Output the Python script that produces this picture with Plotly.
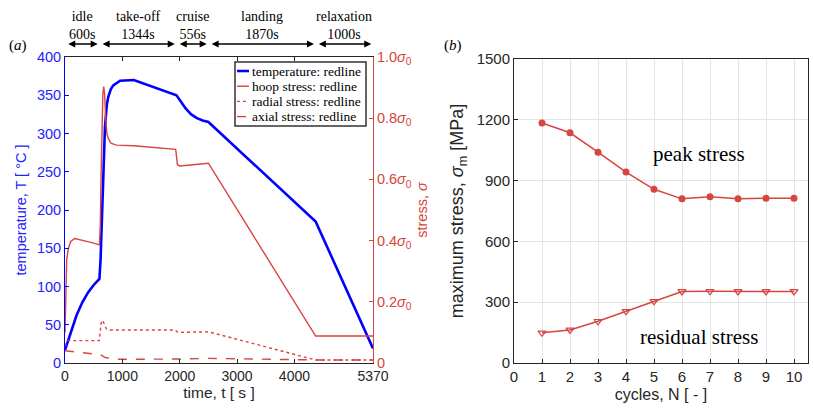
import plotly.graph_objects as go

# ---------------- data : panel (a) ----------------
phase_names = ["idle", "take-off", "cruise", "landing", "relaxation"]
phase_durations = [600, 1344, 556, 1870, 1000]

time_temp = [0, 50, 100, 200, 300, 400, 500, 600, 620, 656, 697, 730, 755, 800, 842, 960,
             1200, 1944, 2000, 2100, 2200, 2300, 2400, 2500, 4370, 5370]
temperature = [17, 28, 40, 62, 79, 92, 102, 110, 135, 222, 309, 338, 348, 358, 363, 369,
               370, 350, 344, 333, 325, 320, 317, 315, 185, 19]

time_hoop = [0, 15, 30, 60, 100, 170, 300, 450, 600, 615, 630, 645, 660, 675, 690, 710,
             730, 755, 800, 900, 1200, 1930, 1944, 1960, 2000, 2500, 4370, 5370]
hoop_stress = [0.10, 0.25, 0.34, 0.375, 0.397, 0.407, 0.402, 0.394, 0.386, 0.45, 0.62, 0.78,
               0.88, 0.903, 0.88, 0.80, 0.75, 0.734, 0.718, 0.712, 0.71, 0.698, 0.672, 0.648,
               0.644, 0.653, 0.088, 0.088]

time_radial = [0, 40, 598, 610, 630, 656, 680, 720, 785, 1918, 1960, 2005, 2500, 4330, 4370, 5370]
radial_stress = [0.055, 0.073, 0.073, 0.10, 0.13, 0.14, 0.13, 0.112, 0.108, 0.108, 0.101,
                 0.100, 0.102, 0.012, 0.010, 0.010]

time_axial = [0, 600, 620, 700, 900, 1944, 2500, 4370, 5370]
axial_stress = [0.040, 0.027, 0.027, 0.018, 0.012, 0.013, 0.015, 0.010, 0.010]

time_ticks = [0, 1000, 2000, 3000, 4000, 5370]
temp_ticks = [0, 50, 100, 150, 200, 250, 300, 350, 400]
stress_ticks = [0, 0.2, 0.4, 0.6, 0.8, 1.0]
stress_tick_labels = ["0", "0.2<i>σ</i><sub>0</sub>", "0.4<i>σ</i><sub>0</sub>",
                      "0.6<i>σ</i><sub>0</sub>", "0.8<i>σ</i><sub>0</sub>", "1.0<i>σ</i><sub>0</sub>"]

# ---------------- data : panel (b) ----------------
cycles = [1, 2, 3, 4, 5, 6, 7, 8, 9, 10]
peak_stress = [1184, 1136, 1040, 942, 857, 810, 820, 811, 813, 813]
residual_stress = [149, 163, 206, 255, 304, 353, 354, 353, 353, 353]
cycle_ticks = [0, 1, 2, 3, 4, 5, 6, 7, 8, 9, 10]
mpa_ticks = [0, 300, 600, 900, 1200, 1500]

# ---------------- styling ----------------
W, H = 813, 411
BLUE = "#0000ff"
BLUE_TXT = "#2222ff"
RED = "#d64541"
DARK = "#262626"
SANS = "Liberation Sans"
SERIF = "Liberation Serif"


def px(x):
    return x / W


def py(y):
    return 1 - y / H


fig = go.Figure()

series_a = [
    ("temperature: redline", time_temp, temperature, "y", BLUE, "solid", 2.6),
    ("hoop stress: redline", time_hoop, hoop_stress, "y2", RED, "solid", 1.4),
    ("radial stress: redline", time_radial, radial_stress, "y2", RED, "dot", 1.4),
    ("axial stress: redline", time_axial, axial_stress, "y2", RED, "dash", 1.4),
]
for name, xs, ys, yax, col, dash, w in series_a:
    fig.add_trace(go.Scatter(x=xs, y=ys, name=name, mode="lines", xaxis="x", yaxis=yax,
                             line=dict(color=col, dash=dash, width=w), showlegend=False))

fig.add_trace(go.Scatter(x=cycles, y=peak_stress, mode="lines+markers", xaxis="x3", yaxis="y3",
                         line=dict(color=RED, width=1.5),
                         marker=dict(symbol="circle", size=7, color=RED), showlegend=False))
fig.add_trace(go.Scatter(x=cycles, y=residual_stress, mode="lines+markers", xaxis="x3", yaxis="y3",
                         line=dict(color=RED, width=1.5),
                         marker=dict(symbol="triangle-down-open", size=7, color=RED,
                                     line=dict(width=1.2, color=RED)),
                         showlegend=False))

tickfont_a = dict(family=SANS, size=14, color=DARK)
fig.update_layout(
    width=W, height=H,
    margin=dict(l=0, r=0, t=0, b=0),
    paper_bgcolor="white", plot_bgcolor="white",
    showlegend=False,
    xaxis=dict(domain=[px(65), px(373)], range=[0, 5370], tickvals=time_ticks,
               ticks="inside", ticklen=4, tickcolor=DARK, showline=True, linecolor=DARK,
               linewidth=1, mirror="ticks", showgrid=False, zeroline=False,
               tickfont=tickfont_a, anchor="y", automargin=False,
               title=dict(text="time, t [ s ]", font=dict(family=SANS, size=15.5, color=DARK),
                          standoff=4)),
    yaxis=dict(domain=[py(363), py(57)], range=[0, 400], tickvals=temp_ticks,
               ticks="inside", ticklen=4, tickcolor=BLUE, showline=True, linecolor=BLUE,
               linewidth=1, showgrid=False, zeroline=False, anchor="x", automargin=False,
               tickfont=dict(family=SANS, size=14.5, color=BLUE_TXT),
               title=dict(text="temperature, T [ °C ]",
                          font=dict(family=SANS, size=14.5, color=BLUE_TXT), standoff=6)),
    yaxis2=dict(domain=[py(363), py(57)], range=[0, 1], tickvals=stress_ticks,
                ticktext=stress_tick_labels, overlaying="y", side="right", anchor="x",
                ticks="inside", ticklen=4, tickcolor=RED, showline=True, linecolor=RED,
                linewidth=1, showgrid=False, zeroline=False, automargin=False,
                tickfont=dict(family=SANS, size=14.5, color=RED),
                title=dict(text="stress, <i>σ</i>", font=dict(family=SANS, size=14.5, color=RED),
                           standoff=6)),
    xaxis3=dict(domain=[px(514), px(808)], range=[0, 10.5], tickvals=cycle_ticks,
                ticks="inside", ticklen=4, tickcolor=DARK, showline=True, linecolor=DARK,
                linewidth=1, mirror=True, showgrid=True, gridcolor="#e4e4e4", zeroline=False,
                tickfont=dict(family=SANS, size=15, color=DARK), anchor="y3", automargin=False,
                title=dict(text="cycles, N [ - ]", font=dict(family=SANS, size=16, color=DARK),
                           standoff=4)),
    yaxis3=dict(domain=[py(363), py(59)], range=[0, 1500], tickvals=mpa_ticks,
                ticks="inside", ticklen=4, tickcolor=DARK, showline=True, linecolor=DARK,
                linewidth=1, mirror=True, showgrid=True, gridcolor="#e4e4e4", zeroline=False,
                tickfont=dict(family=SANS, size=15, color=DARK), anchor="x3", automargin=False,
                title=dict(text="maximum stress, <i>σ</i><sub>m</sub> [MPa]",
                           font=dict(family=SANS, size=18, color=DARK), standoff=8)),
)

annotations = []
shapes = []

# phase arrows and labels
start = 0
for name, dur in zip(phase_names, phase_durations):
    end = start + dur
    annotations.append(dict(x=end - 30, y=py(44), xref="x", yref="paper",
                            ax=start + 30, ay=0, axref="x", ayref="pixel",
                            text="", showarrow=True, arrowhead=2, arrowside="end+start",
                            arrowsize=1, arrowwidth=1.4, arrowcolor="black"))
    annotations.append(dict(x=start + dur / 2, y=py(25), xref="x", yref="paper",
                            text=f"{name}<br>{dur}s", showarrow=False,
                            xanchor="center", yanchor="middle",
                            font=dict(family=SERIF, size=14, color="black")))
    start = end

# panel tags
annotations.append(dict(x=px(18), y=py(46), xref="paper", yref="paper", text="(<i>a</i>)",
                        showarrow=False, xanchor="center", yanchor="middle",
                        font=dict(family=SERIF, size=15, color="black")))
annotations.append(dict(x=px(453), y=py(46), xref="paper", yref="paper", text="(<i>b</i>)",
                        showarrow=False, xanchor="center", yanchor="middle",
                        font=dict(family=SERIF, size=15, color="black")))

# panel (b) text labels
annotations.append(dict(x=6.6, y=1030, xref="x3", yref="y3", text="peak stress",
                        showarrow=False, font=dict(family=SERIF, size=21, color="black")))
annotations.append(dict(x=6.6, y=130, xref="x3", yref="y3", text="residual stress",
                        showarrow=False, font=dict(family=SERIF, size=21, color="black")))

# legend box for panel (a)
shapes.append(dict(type="rect", xref="paper", yref="paper",
                   x0=px(235), x1=px(366), y0=py(126), y1=py(62),
                   line=dict(color="#333333", width=1.5), fillcolor="white", layer="above"))
for i, (name, xs, ys, yax, col, dash, w) in enumerate(series_a):
    yy = py(71 + 15.2 * i)
    shapes.append(dict(type="line", xref="paper", yref="paper", x0=px(237), x1=px(249),
                       y0=yy, y1=yy, line=dict(color=col, dash=dash, width=w), layer="above"))
    annotations.append(dict(x=px(250), y=yy, xref="paper", yref="paper", text=name,
                            showarrow=False, xanchor="left", yanchor="middle",
                            font=dict(family=SERIF, size=13.5, color="black")))

fig.update_layout(annotations=annotations, shapes=shapes)
fig.write_html("out.html")
